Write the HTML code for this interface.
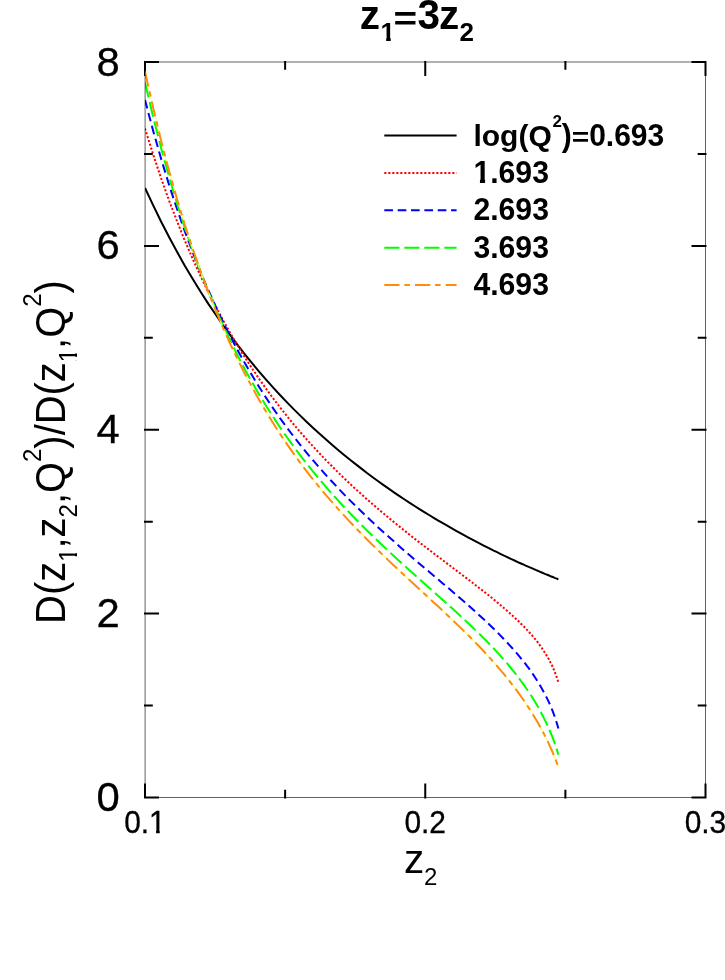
<!DOCTYPE html>
<html><head><meta charset="utf-8"><title>z1=3z2</title>
<style>
html,body{margin:0;padding:0;background:#fff;}
body{width:725px;height:980px;overflow:hidden;font-family:"Liberation Sans",sans-serif;}
svg{display:block;}
</style></head><body>
<svg width="725" height="980" viewBox="0 0 725 980" style="will-change:transform">
<rect width="725" height="980" fill="#fff"/>
<path d="M145.00 798.50V783.50M145.00 61.00V76.00M285.12 798.50V789.70M285.12 61.00V69.80M425.25 798.50V783.50M425.25 61.00V76.00M565.38 798.50V789.70M565.38 61.00V69.80M705.50 798.50V783.50M705.50 61.00V76.00M144.00 797.50H159.00M706.50 797.50H691.50M144.00 705.56H152.80M706.50 705.56H697.70M144.00 613.62H159.00M706.50 613.62H691.50M144.00 521.69H152.80M706.50 521.69H697.70M144.00 429.75H159.00M706.50 429.75H691.50M144.00 337.81H152.80M706.50 337.81H697.70M144.00 245.88H159.00M706.50 245.88H691.50M144.00 153.94H152.80M706.50 153.94H697.70M144.00 62.00H159.00M706.50 62.00H691.50" fill="none" stroke="#000" stroke-width="2"/>
<clipPath id="c"><rect x="145.0" y="62.0" width="560.5" height="735.5"/></clipPath>
<g fill="none" stroke-width="2" stroke-linejoin="round" clip-path="url(#c)"><path d="M145.0 187.9 L153.2 205.4 L161.3 222.0 L169.3 237.5 L177.3 252.3 L185.1 266.2 L192.9 279.3 L200.6 291.8 L208.2 303.6 L215.8 314.8 L223.2 325.5 L230.6 335.7 L237.9 345.3 L245.1 354.6 L252.3 363.4 L259.3 371.8 L266.3 379.9 L273.2 387.6 L280.0 395.0 L286.8 402.1 L293.4 408.9 L300.0 415.4 L306.5 421.7 L312.9 427.7 L319.3 433.5 L325.5 439.1 L331.7 444.5 L337.8 449.7 L343.8 454.7 L349.7 459.5 L355.6 464.1 L361.4 468.6 L367.0 473.0 L372.7 477.2 L378.2 481.2 L383.6 485.1 L389.0 488.9 L394.3 492.6 L399.5 496.1 L404.6 499.5 L409.7 502.8 L414.6 506.0 L419.5 509.1 L424.3 512.1 L429.1 515.0 L433.7 517.8 L438.3 520.6 L442.8 523.2 L447.2 525.7 L451.5 528.2 L455.7 530.6 L459.9 532.9 L464.0 535.1 L468.0 537.3 L471.9 539.4 L475.7 541.4 L479.5 543.4 L483.2 545.3 L486.8 547.1 L490.3 548.9 L493.7 550.6 L497.1 552.2 L500.3 553.8 L503.5 555.4 L506.7 556.8 L509.7 558.3 L512.6 559.7 L515.5 561.0 L518.3 562.3 L521.0 563.5 L523.7 564.7 L526.2 565.8 L528.7 566.9 L531.1 567.9 L533.4 568.9 L535.6 569.9 L537.8 570.8 L539.8 571.7 L541.8 572.5 L543.7 573.3 L545.5 574.1 L547.3 574.8 L549.0 575.5 L550.5 576.2 L552.1 576.8 L553.5 577.3 L554.8 577.9 L556.1 578.4 L557.3 578.8 L558.4 579.3" stroke="#000000"/><path d="M145.0 128.5 L153.2 154.6 L161.3 178.8 L169.3 201.2 L177.3 221.9 L185.1 241.3 L192.9 259.3 L200.6 276.2 L208.2 291.9 L215.8 306.7 L223.2 320.6 L230.6 333.7 L237.9 346.0 L245.1 357.7 L252.3 368.7 L259.3 379.1 L266.3 389.0 L273.2 398.4 L280.0 407.3 L286.8 415.9 L293.4 424.0 L300.0 431.8 L306.5 439.2 L312.9 446.3 L319.3 453.1 L325.5 459.7 L331.7 466.0 L337.8 472.1 L343.8 477.9 L349.7 483.5 L355.6 489.0 L361.4 494.2 L367.0 499.3 L372.7 504.2 L378.2 509.0 L383.6 513.6 L389.0 518.1 L394.3 522.4 L399.5 526.6 L404.6 530.7 L409.7 534.8 L414.6 538.7 L419.5 542.5 L424.3 546.2 L429.1 549.8 L433.7 553.4 L438.3 556.8 L442.8 560.2 L447.2 563.6 L451.5 566.8 L455.7 570.0 L459.9 573.2 L464.0 576.3 L468.0 579.3 L471.9 582.3 L475.7 585.3 L479.5 588.2 L483.2 591.1 L486.8 593.9 L490.3 596.7 L493.7 599.5 L497.1 602.2 L500.3 605.0 L503.5 607.7 L506.7 610.4 L509.7 613.1 L512.6 615.7 L515.5 618.4 L518.3 621.0 L521.0 623.7 L523.7 626.3 L526.2 629.0 L528.7 631.7 L531.1 634.3 L533.4 637.0 L535.6 639.7 L537.8 642.4 L539.8 645.2 L541.8 648.0 L543.7 650.8 L545.5 653.7 L547.3 656.6 L549.0 659.5 L550.5 662.6 L552.1 665.6 L553.5 668.8 L554.8 672.1 L556.1 675.4 L557.3 678.9 L558.4 682.5" stroke="#ff0000" stroke-dasharray="2.1 1.9"/><path d="M145.0 100.0 L153.2 130.9 L161.3 159.4 L169.3 185.6 L177.3 209.8 L185.1 232.1 L192.9 252.8 L200.6 272.1 L208.2 290.0 L215.8 306.7 L223.2 322.3 L230.6 337.0 L237.9 350.7 L245.1 363.6 L252.3 375.8 L259.3 387.3 L266.3 398.1 L273.2 408.4 L280.0 418.1 L286.8 427.4 L293.4 436.2 L300.0 444.6 L306.5 452.6 L312.9 460.2 L319.3 467.6 L325.5 474.6 L331.7 481.3 L337.8 487.8 L343.8 494.1 L349.7 500.1 L355.6 505.9 L361.4 511.5 L367.0 517.0 L372.7 522.2 L378.2 527.4 L383.6 532.3 L389.0 537.1 L394.3 541.8 L399.5 546.4 L404.6 550.9 L409.7 555.3 L414.6 559.5 L419.5 563.7 L424.3 567.8 L429.1 571.8 L433.7 575.7 L438.3 579.6 L442.8 583.4 L447.2 587.1 L451.5 590.8 L455.7 594.5 L459.9 598.1 L464.0 601.6 L468.0 605.1 L471.9 608.6 L475.7 612.0 L479.5 615.4 L483.2 618.8 L486.8 622.2 L490.3 625.5 L493.7 628.8 L497.1 632.1 L500.3 635.4 L503.5 638.7 L506.7 642.0 L509.7 645.3 L512.6 648.5 L515.5 651.8 L518.3 655.1 L521.0 658.4 L523.7 661.6 L526.2 664.9 L528.7 668.2 L531.1 671.6 L533.4 674.9 L535.6 678.2 L537.8 681.6 L539.8 685.0 L541.8 688.4 L543.7 691.9 L545.5 695.4 L547.3 698.9 L549.0 702.4 L550.5 706.0 L552.1 709.7 L553.5 713.3 L554.8 717.1 L556.1 720.9 L557.3 724.7 L558.4 728.6" stroke="#0000ff" stroke-dasharray="8.67 4.683"/><path d="M145.0 82.6 L153.2 117.2 L161.3 148.8 L169.3 177.7 L177.3 204.2 L185.1 228.6 L192.9 251.1 L200.6 271.9 L208.2 291.2 L215.8 309.2 L223.2 325.9 L230.6 341.5 L237.9 356.1 L245.1 369.8 L252.3 382.7 L259.3 394.8 L266.3 406.2 L273.2 417.0 L280.0 427.3 L286.8 437.0 L293.4 446.2 L300.0 455.0 L306.5 463.4 L312.9 471.4 L319.3 479.0 L325.5 486.4 L331.7 493.4 L337.8 500.2 L343.8 506.7 L349.7 512.9 L355.6 519.0 L361.4 524.8 L367.0 530.5 L372.7 536.0 L378.2 541.3 L383.6 546.5 L389.0 551.5 L394.3 556.4 L399.5 561.2 L404.6 565.8 L409.7 570.4 L414.6 574.8 L419.5 579.2 L424.3 583.5 L429.1 587.7 L433.7 591.8 L438.3 595.9 L442.8 599.9 L447.2 603.9 L451.5 607.8 L455.7 611.6 L459.9 615.4 L464.0 619.2 L468.0 622.9 L471.9 626.7 L475.7 630.4 L479.5 634.0 L483.2 637.7 L486.8 641.3 L490.3 644.9 L493.7 648.5 L497.1 652.1 L500.3 655.7 L503.5 659.3 L506.7 662.9 L509.7 666.5 L512.6 670.1 L515.5 673.7 L518.3 677.3 L521.0 681.0 L523.7 684.6 L526.2 688.2 L528.7 691.9 L531.1 695.5 L533.4 699.2 L535.6 702.8 L537.8 706.5 L539.8 710.2 L541.8 713.9 L543.7 717.6 L545.5 721.3 L547.3 725.1 L549.0 728.8 L550.5 732.5 L552.1 736.2 L553.5 739.9 L554.8 743.6 L556.1 747.3 L557.3 751.0 L558.4 754.7" stroke="#00ff00" stroke-dasharray="15.2 4.8"/><path d="M145.0 71.6 L153.2 108.0 L161.3 141.4 L169.3 171.9 L177.3 199.9 L185.1 225.7 L192.9 249.4 L200.6 271.4 L208.2 291.7 L215.8 310.6 L223.2 328.2 L230.6 344.6 L237.9 359.9 L245.1 374.2 L252.3 387.6 L259.3 400.2 L266.3 412.1 L273.2 423.3 L280.0 433.9 L286.8 443.9 L293.4 453.4 L300.0 462.5 L306.5 471.1 L312.9 479.3 L319.3 487.1 L325.5 494.6 L331.7 501.7 L337.8 508.6 L343.8 515.2 L349.7 521.6 L355.6 527.8 L361.4 533.7 L367.0 539.5 L372.7 545.1 L378.2 550.5 L383.6 555.7 L389.0 560.9 L394.3 565.9 L399.5 570.7 L404.6 575.5 L409.7 580.2 L414.6 584.8 L419.5 589.3 L424.3 593.7 L429.1 598.1 L433.7 602.4 L438.3 606.6 L442.8 610.8 L447.2 614.9 L451.5 619.0 L455.7 623.1 L459.9 627.1 L464.0 631.1 L468.0 635.0 L471.9 639.0 L475.7 642.9 L479.5 646.8 L483.2 650.7 L486.8 654.6 L490.3 658.4 L493.7 662.2 L497.1 666.1 L500.3 669.9 L503.5 673.7 L506.7 677.5 L509.7 681.3 L512.6 685.1 L515.5 688.9 L518.3 692.7 L521.0 696.5 L523.7 700.2 L526.2 704.0 L528.7 707.7 L531.1 711.4 L533.4 715.2 L535.6 718.9 L537.8 722.5 L539.8 726.2 L541.8 729.8 L543.7 733.4 L545.5 737.0 L547.3 740.6 L549.0 744.1 L550.5 747.6 L552.1 751.0 L553.5 754.4 L554.8 757.7 L556.1 761.0 L557.3 764.2 L558.4 767.4" stroke="#ffff80" stroke-width="1.1"/><path d="M145.0 71.6 L153.2 108.0 L161.3 141.4 L169.3 171.9 L177.3 199.9 L185.1 225.7 L192.9 249.4 L200.6 271.4 L208.2 291.7 L215.8 310.6 L223.2 328.2 L230.6 344.6 L237.9 359.9 L245.1 374.2 L252.3 387.6 L259.3 400.2 L266.3 412.1 L273.2 423.3 L280.0 433.9 L286.8 443.9 L293.4 453.4 L300.0 462.5 L306.5 471.1 L312.9 479.3 L319.3 487.1 L325.5 494.6 L331.7 501.7 L337.8 508.6 L343.8 515.2 L349.7 521.6 L355.6 527.8 L361.4 533.7 L367.0 539.5 L372.7 545.1 L378.2 550.5 L383.6 555.7 L389.0 560.9 L394.3 565.9 L399.5 570.7 L404.6 575.5 L409.7 580.2 L414.6 584.8 L419.5 589.3 L424.3 593.7 L429.1 598.1 L433.7 602.4 L438.3 606.6 L442.8 610.8 L447.2 614.9 L451.5 619.0 L455.7 623.1 L459.9 627.1 L464.0 631.1 L468.0 635.0 L471.9 639.0 L475.7 642.9 L479.5 646.8 L483.2 650.7 L486.8 654.6 L490.3 658.4 L493.7 662.2 L497.1 666.1 L500.3 669.9 L503.5 673.7 L506.7 677.5 L509.7 681.3 L512.6 685.1 L515.5 688.9 L518.3 692.7 L521.0 696.5 L523.7 700.2 L526.2 704.0 L528.7 707.7 L531.1 711.4 L533.4 715.2 L535.6 718.9 L537.8 722.5 L539.8 726.2 L541.8 729.8 L543.7 733.4 L545.5 737.0 L547.3 740.6 L549.0 744.1 L550.5 747.6 L552.1 751.0 L553.5 754.4 L554.8 757.7 L556.1 761.0 L557.3 764.2 L558.4 767.4" stroke="#ff8c0a" stroke-dasharray="15.2 4.9 5.5 5.1"/></g>
<g fill="none" stroke="#000" stroke-width="0.62"><line x1="145.1" y1="62.0" x2="145.1" y2="797.5"/><line x1="145.1" y1="62.0" x2="705.5" y2="62.0"/><line x1="705.5" y1="62.0" x2="705.5" y2="797.5"/><line x1="145.1" y1="797.5" x2="705.5" y2="797.5"/></g>
<g fill="none" stroke-width="2"><line x1="384.3" y1="135.5" x2="456.6" y2="135.5" stroke="#000000"/><line x1="384.3" y1="173.0" x2="456.6" y2="173.0" stroke="#ff0000" stroke-dasharray="2.1 1.9"/><line x1="384.3" y1="210.3" x2="456.6" y2="210.3" stroke="#0000ff" stroke-dasharray="8.67 4.683"/><line x1="384.3" y1="247.7" x2="456.6" y2="247.7" stroke="#00ff00" stroke-dasharray="15.2 4.8"/><line x1="384.3" y1="285.0" x2="456.6" y2="285.0" stroke="#ff8c0a" stroke-dasharray="15.2 4.9 5.5 5.1"/></g>
<defs><clipPath id="k0"><rect x="-300" y="-100" width="306.03" height="200"/><rect x="6.03" y="-100" width="14.49" height="96.87"/><rect x="11.17" y="-3.63" width="3.64" height="4.63"/><rect x="20.52" y="-100" width="300" height="200"/></clipPath><clipPath id="k1"><rect x="-300" y="-100" width="301.24" height="200"/><rect x="1.24" y="-100" width="13.70" height="96.45"/><rect x="5.57" y="-4.05" width="4.57" height="5.05"/><rect x="14.94" y="-100" width="300" height="200"/></clipPath><clipPath id="k2"><rect x="-300" y="-100" width="301.50" height="200"/><rect x="1.50" y="-100" width="15.65" height="96.02"/><rect x="6.55" y="-4.48" width="5.14" height="5.48"/><rect x="17.16" y="-100" width="300" height="200"/></clipPath><clipPath id="k3"><rect x="-300" y="-100" width="301.43" height="200"/><rect x="1.43" y="-100" width="11.95" height="97.31"/><rect x="5.54" y="-3.19" width="3.12" height="4.19"/><rect x="13.38" y="-100" width="300" height="200"/></clipPath><clipPath id="k4"><rect x="-300" y="-100" width="301.43" height="200"/><rect x="1.43" y="-100" width="11.95" height="97.31"/><rect x="5.54" y="-3.19" width="3.12" height="4.19"/><rect x="13.38" y="-100" width="300" height="200"/></clipPath></defs>
<g font-family="'Liberation Sans', sans-serif" fill="#000"><text transform="translate(119.80 811.00) scale(1.02 1.01)" font-size="41" text-anchor="end" stroke="#000" stroke-width="0.3">0</text><text transform="translate(119.80 627.12) scale(1.02 1.01)" font-size="41" text-anchor="end" stroke="#000" stroke-width="0.3">2</text><text transform="translate(119.80 443.25) scale(1.02 1.01)" font-size="41" text-anchor="end" stroke="#000" stroke-width="0.3">4</text><text transform="translate(119.80 259.38) scale(1.02 1.01)" font-size="41" text-anchor="end" stroke="#000" stroke-width="0.3">6</text><text transform="translate(119.80 75.50) scale(1.02 1.01)" font-size="41" text-anchor="end" stroke="#000" stroke-width="0.3">8</text><g transform="translate(144.90 832.85) scale(1 1.056)"><text font-size="29.9" text-anchor="middle" stroke="#000" stroke-width="0.3" clip-path="url(#k0)">0.1</text></g><text transform="translate(425.15 832.85) scale(1 1.056)" font-size="29.9" text-anchor="middle" stroke="#000" stroke-width="0.3">0.2</text><text transform="translate(705.40 832.85) scale(1 1.056)" font-size="29.9" text-anchor="middle" stroke="#000" stroke-width="0.3">0.3</text><text transform="translate(404.00 873.00)" font-size="40.5">z</text><text transform="translate(424.00 885.00)" font-size="24">2</text><text transform="translate(359.70 29.00)" font-size="40.5" font-weight="bold">z</text><g transform="translate(380.60 40.50)"><text font-size="26" font-weight="bold" clip-path="url(#k1)">1</text></g><text transform="translate(393.60 29.50) scale(1 0.83)" font-size="40.5" font-weight="bold">=</text><text transform="translate(417.40 29.00) scale(1 1.05)" font-size="40.5" font-weight="bold">3</text><text transform="translate(439.00 29.00)" font-size="40.5" font-weight="bold">z</text><text transform="translate(459.60 40.50)" font-size="26" font-weight="bold">2</text><text transform="translate(473.40 145.50)" font-size="30" font-weight="bold">log(Q</text><text transform="translate(552.40 127.30)" font-size="17" font-weight="bold">2</text><text transform="translate(561.66 145.50) scale(1 1.02)" font-size="30" font-weight="bold">)</text><text transform="translate(571.65 146.00) scale(1 0.85)" font-size="30" font-weight="bold">=</text><text transform="translate(589.17 145.50) scale(1 1.06)" font-size="30" font-weight="bold">0.693</text><g transform="translate(473.40 183.10) scale(1 1.06)"><text font-size="30.2" font-weight="bold" clip-path="url(#k2)">1.693</text></g><text transform="translate(473.40 220.40) scale(1 1.06)" font-size="30.2" font-weight="bold">2.693</text><text transform="translate(473.40 257.80) scale(1 1.06)" font-size="30.2" font-weight="bold">3.693</text><text transform="translate(473.40 295.10) scale(1 1.06)" font-size="30.2" font-weight="bold">4.693</text><text transform="translate(65.00 623.90) rotate(-90) scale(1 1.055)" font-size="39.9">D(z</text><g transform="translate(76.60 561.85) rotate(-90) scale(1 1.055)"><text font-size="24" clip-path="url(#k3)">1</text></g><text transform="translate(65.00 548.50) rotate(-90) scale(1 1.055)" font-size="39.9">,z</text><text transform="translate(76.60 517.47) rotate(-90) scale(1 1.055)" font-size="24">2</text><text transform="translate(65.00 504.12) rotate(-90) scale(1 1.055)" font-size="39.9">,Q</text><text transform="translate(41.00 462.00) rotate(-90) scale(1 1.055)" font-size="24">2</text><text transform="translate(65.00 448.65) rotate(-90) scale(1 1.055)" font-size="39.9">)/D(z</text><g transform="translate(76.60 362.22) rotate(-90) scale(1 1.055)"><text font-size="24" clip-path="url(#k4)">1</text></g><text transform="translate(65.00 348.88) rotate(-90) scale(1 1.055)" font-size="39.9">,Q</text><text transform="translate(41.00 306.76) rotate(-90) scale(1 1.055)" font-size="24">2</text><text transform="translate(65.00 293.41) rotate(-90) scale(1 1.055)" font-size="39.9">)</text></g>
</svg>
</body></html>
